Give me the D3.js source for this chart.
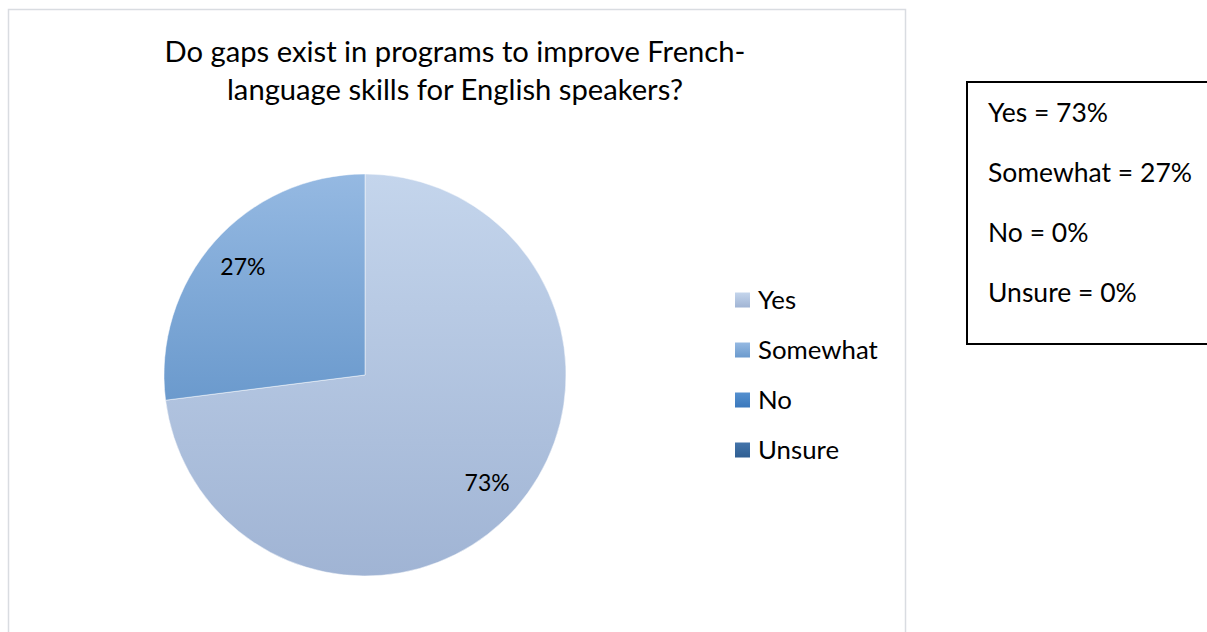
<!DOCTYPE html>
<html>
<head>
<meta charset="utf-8">
<script src="https://cdn.jsdelivr.net/npm/d3@7"></script>
<style>
  html, body { margin: 0; padding: 0; background: #fff; }
  svg { display: block; font-family: Lato, "Open Sans", sans-serif; }
</style>
</head>
<body>
<svg id="chart" width="1207" height="632"></svg>
<script>
// Survey answers and their shares (percent)
const categories = ["Yes", "Somewhat", "No", "Unsure"];
const shares = [73, 27, 0, 0];
const titleLines = ["Do gaps exist in programs to improve French-", "language skills for English speakers?"];
const summaryLines = ["Yes = 73%", "Somewhat = 27%", "No = 0%", "Unsure = 0%"];

// top / bottom shades of each slice's vertical gradient
const gradTop = ["#c4d5ec", "#95b9e2", "#5590cf", "#4474aa"];
const gradBottom = ["#a0b4d4", "#6b9acd", "#3a78bc", "#2f5e92"];

const svg = d3.select("#chart");
const defs = svg.append("defs");

categories.forEach((c, i) => {
  const g = defs.append("linearGradient")
    .attr("id", "grad" + i)
    .attr("x1", 0).attr("y1", 0).attr("x2", 0).attr("y2", 1);
  g.append("stop").attr("offset", "0%").attr("stop-color", gradTop[i]);
  g.append("stop").attr("offset", "100%").attr("stop-color", gradBottom[i]);
});

// chart area frame
svg.append("rect")
  .attr("x", 8.5).attr("y", 9.5)
  .attr("width", 897).attr("height", 640)
  .attr("fill", "#fff")
  .attr("stroke", "#d9dce1")
  .attr("stroke-width", 1.5);

// title
svg.append("text")
  .attr("text-anchor", "middle")
  .attr("font-size", 29.2)
  .attr("fill", "#000")
  .selectAll("tspan")
  .data(titleLines)
  .join("tspan")
  .attr("x", 455)
  .attr("y", (d, i) => 62 + i * 38)
  .text(d => d);

// pie
const cx = 365, cy = 375, r = 201;
const data = categories.map((c, i) => ({ name: c, value: shares[i], i }));
const pie = d3.pie().sort(null).value(d => d.value);
const arcs = pie(data);
const arc = d3.arc().innerRadius(0).outerRadius(r);
const labelArc = d3.arc().innerRadius(r * 0.81).outerRadius(r * 0.81);

const pg = svg.append("g").attr("transform", `translate(${cx},${cy})`);
pg.selectAll("path")
  .data(arcs.filter(a => a.data.value > 0))
  .join("path")
  .attr("d", arc)
  .attr("fill", d => `url(#grad${d.data.i})`)
  .attr("stroke", "rgba(255,255,255,0.6)")
  .attr("stroke-width", 0.8);

pg.selectAll("text.pct")
  .data(arcs.filter(a => a.data.value > 0))
  .join("text")
  .attr("class", "pct")
  .attr("transform", d => `translate(${labelArc.centroid(d)})`)
  .attr("text-anchor", "middle")
  .attr("dy", "0.35em")
  .attr("font-size", 23)
  .attr("fill", "#000")
  .text(d => d.data.value + "%");

// legend
const legend = svg.append("g").attr("transform", "translate(735,300)");
const li = legend.selectAll("g")
  .data(categories)
  .join("g")
  .attr("transform", (d, i) => `translate(0,${i * 50})`);
li.append("rect")
  .attr("x", 0).attr("y", -7.5)
  .attr("width", 15).attr("height", 15)
  .attr("fill", (d, i) => `url(#grad${i})`);
li.append("text")
  .attr("x", 23)
  .attr("dy", "0.35em")
  .attr("font-size", 25.8)
  .attr("fill", "#000")
  .text(d => d);

// summary box
svg.append("rect")
  .attr("x", 967).attr("y", 82)
  .attr("width", 270).attr("height", 262)
  .attr("fill", "#fff")
  .attr("stroke", "#000")
  .attr("stroke-width", 2);
svg.append("g")
  .selectAll("text")
  .data(summaryLines)
  .join("text")
  .attr("x", 988)
  .attr("y", (d, i) => 113 + i * 60)
  .attr("dy", "0.35em")
  .attr("font-size", 26.5)
  .attr("fill", "#000")
  .text(d => d);
</script>
</body>
</html>
